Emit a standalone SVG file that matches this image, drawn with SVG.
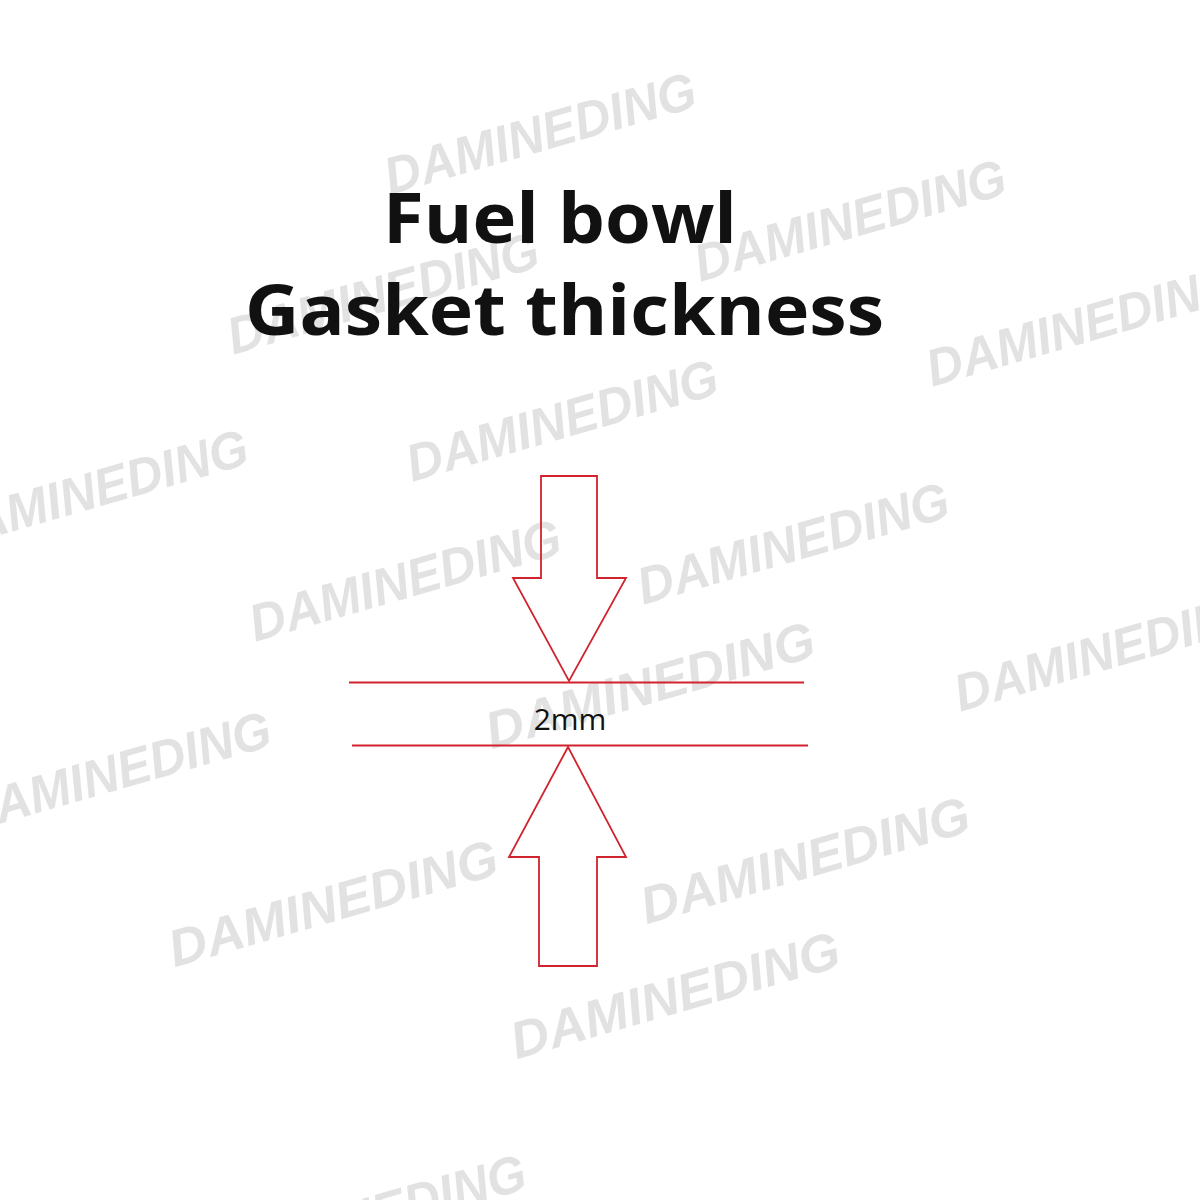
<svg xmlns="http://www.w3.org/2000/svg" width="1200" height="1200" viewBox="0 0 1200 1200">
<style>
.wm{font-family:"Liberation Sans",Arial,sans-serif;font-weight:bold;font-style:italic;font-size:52px;fill:#e2e2e2;text-anchor:middle}
.title{font-family:"Open Sans","Liberation Sans",sans-serif;font-weight:bold;font-size:70px;fill:#111;text-anchor:middle}
.red{fill:none;stroke:#d0232d;stroke-width:1.8}
.lbl{font-family:"Open Sans","Liberation Sans",sans-serif;font-size:30px;fill:#111;text-anchor:middle}
</style>
<rect width="1200" height="1200" fill="#fff"/>
<g id="watermarks">
<text class="wm" textLength="322" lengthAdjust="spacingAndGlyphs" transform="translate(540,133) rotate(-16)" y="18">DAMINEDING</text>
<text class="wm" textLength="322" lengthAdjust="spacingAndGlyphs" transform="translate(850,220) rotate(-16)" y="18">DAMINEDING</text>
<text class="wm" textLength="322" lengthAdjust="spacingAndGlyphs" transform="translate(383,293) rotate(-16)" y="18">DAMINEDING</text>
<text class="wm" textLength="322" lengthAdjust="spacingAndGlyphs" transform="translate(1082,325) rotate(-16)" y="18">DAMINEDING</text>
<text class="wm" textLength="322" lengthAdjust="spacingAndGlyphs" transform="translate(562,420) rotate(-16)" y="18">DAMINEDING</text>
<text class="wm" textLength="322" lengthAdjust="spacingAndGlyphs" transform="translate(92,490) rotate(-16)" y="18">DAMINEDING</text>
<text class="wm" textLength="322" lengthAdjust="spacingAndGlyphs" transform="translate(793,543) rotate(-16)" y="18">DAMINEDING</text>
<text class="wm" textLength="322" lengthAdjust="spacingAndGlyphs" transform="translate(405,580) rotate(-16)" y="18">DAMINEDING</text>
<text class="wm" textLength="340" lengthAdjust="spacingAndGlyphs" transform="translate(650,685) rotate(-16)" y="18">DAMINEDING</text>
<text class="wm" textLength="322" lengthAdjust="spacingAndGlyphs" transform="translate(1110,650) rotate(-16)" y="18">DAMINEDING</text>
<text class="wm" textLength="322" lengthAdjust="spacingAndGlyphs" transform="translate(115,772) rotate(-16)" y="18">DAMINEDING</text>
<text class="wm" textLength="340" lengthAdjust="spacingAndGlyphs" transform="translate(333,903) rotate(-16)" y="18">DAMINEDING</text>
<text class="wm" textLength="340" lengthAdjust="spacingAndGlyphs" transform="translate(805,860) rotate(-16)" y="18">DAMINEDING</text>
<text class="wm" textLength="340" lengthAdjust="spacingAndGlyphs" transform="translate(675,995) rotate(-16)" y="18">DAMINEDING</text>
<text class="wm" textLength="322" lengthAdjust="spacingAndGlyphs" transform="translate(370,1215) rotate(-16)" y="18">DAMINEDING</text>
</g>
<g id="title">
<text class="title" x="560" y="243" textLength="354" lengthAdjust="spacingAndGlyphs">Fuel bowl</text>
<text class="title" x="564.5" y="335" textLength="639" lengthAdjust="spacingAndGlyphs">Gasket thickness</text>
</g>
<g id="connectors">
<polygon id="arrow-down" class="red" points="541,476 597,476 597,578 626,578 569,681 513,578 541,578"/>
<line class="red" x1="349" y1="682.5" x2="804" y2="682.5"/>
<line class="red" x1="352" y1="745.5" x2="808" y2="745.5"/>
<polygon id="arrow-up" class="red" points="568,747 626,857 597,857 597,966 539,966 539,857 509,857"/>
</g>
<g id="label">
<text class="lbl" x="570" y="730">2mm</text>
</g>
</svg>
